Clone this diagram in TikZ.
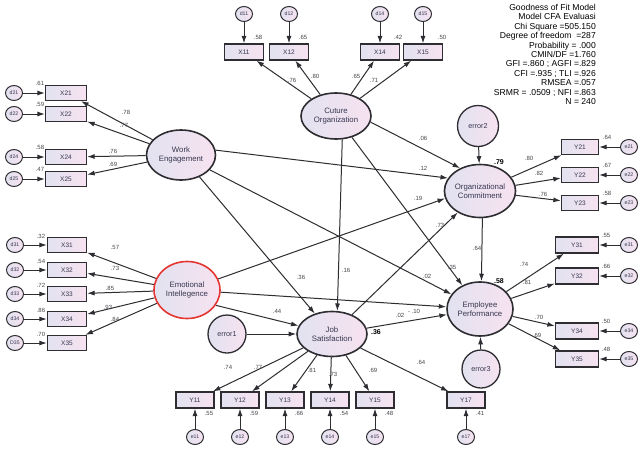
\documentclass[tikz,border=0pt]{standalone}
\usepackage{fontspec}
\setmainfont{Liberation Sans}
\usetikzlibrary{shapes.geometric,arrows.meta}
\definecolor{dk}{RGB}{45,45,50}
\definecolor{lavL}{RGB}{226,226,240}
\definecolor{pinkR}{RGB}{247,226,240}
\definecolor{txt}{RGB}{55,55,80}
\definecolor{lblc}{RGB}{70,70,75}
\definecolor{redE}{RGB}{228,55,50}
\begin{document}
\begin{tikzpicture}[x=1pt,y=-1pt,
  lat/.style={ellipse, draw=dk, line width=1.6pt, left color=lavL, right color=pinkR, text=txt, font=\fontsize{7.8}{9.4}\selectfont, align=center, inner sep=0pt},
  ind/.style={rectangle, draw=dk, line width=1.3pt, left color=lavL, right color=pinkR, text=txt, font=\fontsize{6.5}{7}\selectfont, inner sep=0pt, minimum height=15pt},
  sm/.style={ellipse, draw=dk, line width=1pt, left color=lavL, right color=pinkR, text=txt, font=\fontsize{5.2}{5}\selectfont, inner sep=0pt, minimum width=17pt, minimum height=15pt},
  errbig/.style={circle, draw=dk, line width=1.3pt, left color=lavL, right color=pinkR, text=txt, font=\fontsize{7.2}{8}\selectfont, inner sep=0pt},
  arr/.style={draw=dk, line width=1pt, -{Latex[length=7.5pt,width=5pt]}},
  cf/.style={font=\fontsize{6}{6}\selectfont, text=lblc, inner sep=0pt},
  rsq/.style={font=\bfseries\fontsize{7}{8}\selectfont, text=black, inner sep=0pt}
]
\fill[white] (0,0) rectangle (643,448);
\useasboundingbox (0,0) rectangle (643,448);

% latent variables
\node[lat, minimum width=69pt, minimum height=50pt] (WE) at (181,155) {Work\\Engagement};
\node[lat, minimum width=70pt, minimum height=46pt] (CO) at (336,116) {Cuture\\Organization};
\node[lat, minimum width=64pt, minimum height=53pt] (OC) at (480,191) {Organizational\\Commitment};
\node[lat, minimum width=66pt, minimum height=54pt] (EP) at (480,309) {Employee\\Performance};
\node[lat, draw=redE, minimum width=66pt, minimum height=57pt] (EI) at (187,290) {Emotional\\Intellegence};
\node[lat, minimum width=70pt, minimum height=45pt] (JS) at (332,334) {Job\\Satisfaction};
\node[errbig, minimum size=38pt] (error1) at (227,334) {error1};
\node[errbig, minimum size=41pt] (error2) at (478,126) {error2};
\node[errbig, minimum size=38pt] (error3) at (481,369) {error3};

% Work Engagement indicators
\foreach \n/\d/\y/\r/\l/\lx/\ly in {X21/d21/93/.61/.78/126/112, X22/d22/114/.59/.77/124/125, X24/d24/157/.58/.76/113/151, X25/d25/179/.47/.69/113/164} {
  \node[ind, minimum width=41pt] (\n) at (66,\y) {\n};
  \node[sm] (\d) at (14,\y) {\d};
  \draw[arr] (\d) -- (\n);
  \draw[arr] (WE) -- (\n);
  \node[cf] at (40,\y-10) {\r};
  \node[cf] at (\lx,\ly) {\l};
}

% Emotional Intelligence indicators
\foreach \n/\d/\y/\r/\l/\lx/\ly in {X31/d31/245/.32/.57/115/247, X32/d32/270/.54/.73/115/268, X33/d33/294/.72/.85/110/288, X34/d34/319/.86/.93/108/307, X35/D35/343/.70/.84/115/319} {
  \node[ind, minimum width=39pt] (\n) at (67,\y) {\n};
  \node[sm] (\d) at (15,\y) {\d};
  \draw[arr] (\d) -- (\n);
  \draw[arr] (EI) -- (\n);
  \node[cf] at (41,\y-9) {\r};
  \node[cf] at (\lx,\ly) {\l};
}

% Culture Organization indicators
\foreach \n/\d/\x/\r/\rx/\l/\lx/\ly in {X11/d11/244/.58/258/.76/292/80, X12/d12/289/.65/303/.80/315/76, X14/d14/380/.42/398/.65/356/76, X15/d15/423/.50/442/.71/374/80} {
  \node[ind, minimum width=39pt, minimum height=16pt] (\n) at (\x,52) {\n};
  \node[sm] (\d) at (\x,14) {\d};
  \draw[arr] (\d) -- (\n);
  \draw[arr] (CO) -- (\n);
  \node[cf] at (\rx,37) {\r};
  \node[cf] at (\lx,\ly) {\l};
}

% Organizational Commitment indicators
\foreach \n/\d/\y/\r/\l/\lx/\ly in {Y21/e21/147/.64/.80/529/158, Y22/e22/175/.67/.82/539/173, Y23/e23/203/.58/.76/543/194} {
  \node[ind, minimum width=37pt] (\n) at (580,\y) {\n};
  \node[sm] (\d) at (629,\y) {\d};
  \draw[arr] (\d) -- (\n);
  \draw[arr] (OC) -- (\n);
  \node[cf] at (607,\y-10) {\r};
  \node[cf] at (\lx,\ly) {\l};
}

% Employee Performance indicators
\foreach \n/\d/\y/\r/\l/\lx/\ly in {Y31/e31/245/.55/.74/524/264, Y32/e32/276/.66/.81/527/282, Y34/e34/331/.50/.70/539/317, Y35/e35/359/.48/.69/537/335} {
  \node[ind, minimum width=43pt, minimum height=16pt] (\n) at (577,\y) {\n};
  \node[sm] (\d) at (629,\y) {\d};
  \draw[arr] (\d) -- (\n);
  \draw[arr] (EP) -- (\n);
  \node[cf] at (606,\y-10) {\r};
  \node[cf] at (\lx,\ly) {\l};
}

% Job Satisfaction indicators
\foreach \n/\d/\x/\r/\l/\lx/\ly in {Y11/e11/195/.55/.74/228/367, Y12/e12/240/.59/.77/258/367, Y13/e13/285/.66/.81/312/370, Y14/e14/330/.54/.73/333/374, Y15/e15/375/.48/.69/373/370, Y17/e17/466/.41/.64/421/362} {
  \node[ind, minimum width=38pt, minimum height=16pt] (\n) at (\x,400) {\n};
  \node[sm] (\d) at (\x,437) {\d};
  \draw[arr] (\d) -- (\n);
  \draw[arr] (JS) -- (\n);
  \node[cf] at (\x+14,413) {\r};
  \node[cf] at (\lx,\ly) {\l};
}

% structural paths
\draw[arr] (WE.8) -- (OC.158);
\draw[arr] (WE) -- (JS);
\draw[arr] (WE) -- (EP);
\draw[arr] (EI) -- (OC.192);
\draw[arr] (EI) -- (EP);
\draw[arr] (EI.-28) -- (JS);
\draw[arr] (error1) -- (JS);
\draw[arr] (CO.-10) -- (OC.131);
\draw[arr] (CO.-75) -- (JS.77);
\draw[arr] (CO) -- (EP);
\draw[arr] (OC.-85) -- (EP.87);
\draw[arr] (JS) -- (OC);
\draw[arr] (JS) -- (EP);
\draw[arr] (error2) -- (OC);
\draw[arr] (error3) -- (EP);

% structural coefficients
\node[cf] at (423,168) {.12};
\node[cf] at (418,198) {.19};
\node[cf] at (423,138) {.06};
\node[cf] at (440,225) {.73};
\node[cf] at (346,270) {.16};
\node[cf] at (301,277) {.36};
\node[cf] at (452,267) {.35};
\node[cf] at (427,276) {.02};
\node[cf] at (477,248) {.64};
\node[cf] at (277,311) {.44};
\node[cf] at (400,315) {.02};
\node[cf] at (414,311) {- .10};

% R squared
\node[rsq] at (499,162) {.79};
\node[rsq] at (499,281) {.58};
\node[rsq] at (376,332) {.36};

% fit statistics
\node[anchor=north east, align=right, font=\fontsize{8.6}{9.4}\selectfont, text=black, inner sep=0pt] (fit) at (596,4) {Goodness of Fit Model\\Model CFA Evaluasi\\Chi Square =505.150\\Degree of freedom\ \ =287\\Probability = .000\\CMIN/DF =1.760\\GFI =.860 ; AGFI =.829\\CFI =.935 ; TLI =.926\\RMSEA =.057\\SRMR = .0509 ; NFI =.863\\N = 240};
\end{tikzpicture}
\end{document}
